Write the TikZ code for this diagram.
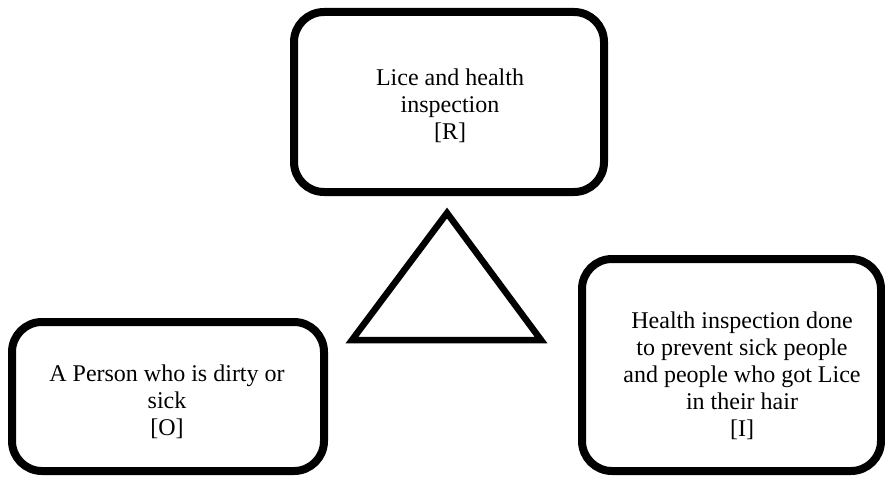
\documentclass[tikz,border=0pt]{standalone}
\usepackage{fontspec}
\setmainfont{Liberation Serif}

\tikzset{
  box/.style={draw, line width=8pt, rounded corners=30pt, inner sep=0pt},
  txt/.style={align=center, inner sep=0pt, font=\fontsize{24}{27}\selectfont}
}

\begin{document}
\begin{tikzpicture}[x=1pt,y=-1pt]
    \useasboundingbox (0,0) rectangle (885,476);

    % the three boxes
    \node[box, minimum width=310pt, minimum height=180pt] (r) at (449,102) {};
    \node[box, minimum width=312pt, minimum height=149pt] (o) at (168,396.5) {};
    \node[box, minimum width=299pt, minimum height=212pt] (i) at (731.5,365) {};

    \node[txt] (rtext) at (450,106) {Lice and health\\inspection\\{[R]}};
    \node[txt] (otext) at (167,402) {A Person who is dirty or\\sick\\{[O]}};
    \node[txt] (itext) at (742,376) {Health inspection done\\to prevent sick people\\and people who got Lice\\in their hair\\{[I]}};

    % triangle in the middle
    \coordinate (top) at (447,213);
    \coordinate (left) at (352,340);
    \coordinate (right) at (541,340);
    \draw[line width=6.5pt] (top) -- (left) -- (right) -- cycle;
  \end{tikzpicture}
\end{document}
